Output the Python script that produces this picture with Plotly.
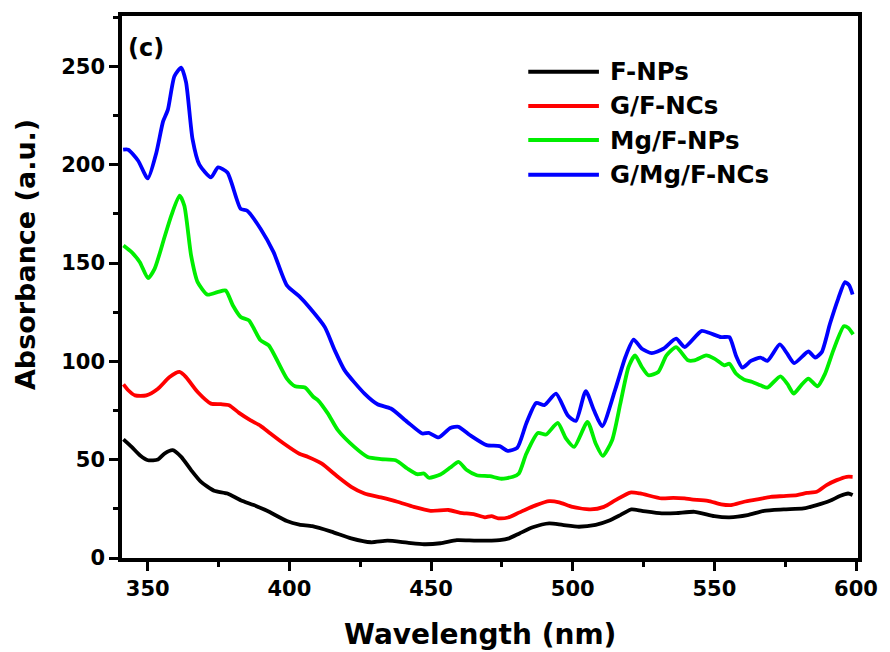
import plotly.graph_objects as go

# UV-Vis absorbance spectra, wavelength in nm
names = ["F-NPs", "G/F-NCs", "Mg/F-NPs", "G/Mg/F-NCs"]
colors = ["#000000", "#FF0000", "#00EE00", "#0000FF"]

fnp_x = [341.4, 344.3, 347.2, 350.1, 353.6, 355.9, 358.8, 361.8, 365.3, 368.8, 373.4, 378.1,
         382.8, 387.4, 392.1, 399.1, 403.5, 408.1, 414.8, 421.8, 428.8, 434.6, 441.6, 447.5,
         453.3, 459.1, 466.1, 474.2, 477.5, 481.2, 485.9, 491.7, 496.4, 502.2, 508.1, 512.7,
         516.8, 520.7, 524.4, 531.4, 536.5, 543.0, 550.0, 555.3, 561.7, 567.5, 574.5, 581.5,
         586.1, 590.8, 594.3, 597.2, 598.8]
fnp_y = [60.3, 56.5, 52.3, 49.7, 50.1, 53.1, 54.8, 51.4, 44.7, 38.7, 34.2, 32.8,
         29.4, 26.9, 24.0, 18.8, 17.0, 16.2, 13.4, 10.0, 8.0, 8.8, 7.8, 7.0,
         7.5, 9.1, 8.8, 9.1, 10.0, 12.5, 15.6, 17.6, 16.8, 15.9, 16.8, 18.9,
         21.8, 24.7, 24.0, 22.7, 22.8, 23.5, 21.3, 20.7, 21.8, 24.0, 24.7, 25.2,
         26.9, 29.1, 31.5, 32.8, 32.0]

gf_x = [341.4, 343.1, 345.5, 349.5, 353.6, 357.7, 361.2, 363.5, 367.6, 372.3, 375.8, 378.7,
        382.2, 386.3, 389.8, 393.3, 398.0, 403.5, 406.6, 411.3, 417.1, 421.8, 426.5, 432.3,
        438.1, 443.9, 449.8, 456.2, 460.3, 465.0, 469.0, 471.3, 473.7, 477.2, 481.2, 487.1,
        491.7, 495.2, 499.9, 506.3, 511.0, 515.1, 520.3, 523.8, 531.4, 535.5, 539.5, 541.9,
        547.7, 552.4, 555.9, 560.5, 565.2, 569.9, 574.5, 579.2, 582.7, 586.1, 589.6, 593.2,
        596.7, 598.8]
gf_y = [88.3, 85.3, 82.7, 82.7, 86.1, 92.0, 94.6, 92.0, 84.4, 78.5, 78.2, 77.7,
        73.8, 70.0, 67.2, 63.3, 58.2, 53.0, 51.4, 48.1, 41.3, 36.2, 32.8, 30.8,
        28.6, 26.0, 24.0, 24.4, 23.0, 22.3, 20.7, 21.3, 20.2, 20.6, 23.2, 26.9,
        28.9, 28.3, 26.0, 24.7, 26.0, 29.4, 33.3, 32.8, 30.3, 30.6, 30.3, 29.8,
        29.1, 27.3, 26.9, 28.6, 29.8, 31.1, 31.5, 32.0, 33.1, 33.7, 37.1, 39.6,
        41.3, 41.3]

mgf_x = [341.4, 344.3, 347.2, 350.1, 352.4, 355.9, 358.3, 361.2, 362.9, 365.3, 367.6, 371.1,
         374.6, 377.5, 380.0, 382.8, 385.7, 389.8, 392.7, 399.1, 402.0, 405.5, 408.4, 410.1,
         413.6, 417.1, 422.9, 427.6, 432.3, 437.5, 441.6, 445.1, 447.5, 449.2, 453.3, 456.8,
         459.7, 462.6, 466.1, 470.7, 474.8, 478.9, 481.0, 483.6, 487.7, 490.6, 494.7, 497.6,
         500.5, 505.2, 508.1, 510.6, 513.9, 516.8, 519.7, 522.0, 524.4, 526.7, 530.2, 533.1,
         536.5, 540.7, 543.0, 547.1, 550.0, 553.5, 555.3, 557.6, 560.5, 563.4, 566.3, 568.7,
         573.3, 575.7, 578.0, 580.9, 583.2, 586.4, 589.1, 592.0, 595.7, 597.2, 599.0]
mgf_y = [158.9, 155.5, 150.4, 142.3, 147.0, 163.1, 174.1, 184.3, 179.2, 153.8, 140.3, 133.9,
         135.2, 136.0, 128.5, 122.5, 120.8, 110.7, 108.1, 91.2, 87.3, 86.7, 82.0, 80.2,
         73.4, 65.0, 56.5, 51.4, 50.3, 49.7, 45.5, 42.6, 43.0, 40.8, 42.5, 46.0,
         48.9, 44.7, 42.1, 41.6, 40.3, 41.3, 43.0, 53.0, 63.6, 62.8, 68.7, 60.8,
         56.5, 69.2, 58.2, 51.9, 59.9, 78.5, 97.1, 103.0, 97.1, 92.9, 94.6, 103.0,
         107.2, 100.5, 100.5, 103.0, 101.4, 98.0, 98.8, 93.8, 90.7, 89.5, 87.8, 86.6,
         92.4, 88.7, 83.6, 88.3, 91.2, 87.3, 93.8, 105.6, 117.8, 117.1, 113.7]

gmgf_x = [341.3, 343.1, 346.6, 350.0, 353.0, 355.4, 357.1, 359.4, 361.8, 363.5, 365.8, 368.2,
          372.3, 374.8, 378.1, 382.8, 385.1, 389.8, 394.4, 399.1, 403.5, 407.0, 412.5, 416.0,
          419.5, 426.5, 431.1, 435.8, 441.6, 446.9, 449.2, 452.7, 456.8, 459.7, 463.8, 469.6,
          474.2, 477.0, 480.4, 483.6, 487.1, 490.0, 494.1, 498.2, 501.1, 504.6, 507.5, 510.4,
          515.1, 518.6, 521.5, 524.4, 527.9, 532.0, 536.5, 539.5, 545.4, 548.3, 552.4, 555.3,
          557.6, 559.9, 562.9, 566.3, 568.7, 573.1, 575.7, 578.2, 583.2, 585.6, 587.9, 590.8,
          593.7, 596.1, 597.6, 598.8]
gmgf_y = [207.6, 207.6, 202.0, 193.0, 206.0, 222.0, 228.0, 245.0, 249.4, 242.0, 213.0, 200.0,
          193.5, 198.6, 196.0, 177.5, 176.6, 167.4, 155.5, 138.6, 133.0, 127.5, 117.4, 105.6,
          95.4, 83.6, 78.2, 76.0, 69.2, 63.3, 63.6, 61.3, 66.1, 66.7, 62.4, 57.4,
          56.9, 54.5, 56.0, 68.4, 78.8, 77.7, 83.6, 72.6, 69.7, 84.9, 75.1, 67.0,
          86.1, 102.2, 111.0, 106.4, 104.2, 106.4, 111.5, 107.3, 115.4, 114.4, 112.3, 112.3,
          103.0, 96.8, 100.2, 101.9, 100.2, 108.6, 103.9, 99.1, 105.0, 101.9, 104.7, 119.1,
          131.8, 140.3, 138.6, 134.0]

series_x = [fnp_x, gf_x, mgf_x, gmgf_x]
series_y = [fnp_y, gf_y, mgf_y, gmgf_y]

FONT = "DejaVu Sans, Arial, sans-serif"

fig = go.Figure()
for name, color, xs, ys in zip(names, colors, series_x, series_y):
    fig.add_trace(go.Scatter(
        x=xs, y=ys, mode="lines", name=name, showlegend=False,
        line=dict(color=color, width=3.8, shape="spline", smoothing=0.6),
    ))

axis_common = dict(
    showgrid=False, zeroline=False,
    showline=True, linecolor="black", linewidth=3.5, mirror=True,
    ticks="outside", ticklen=9, tickwidth=3, tickcolor="black",
    tickfont=dict(family=FONT, size=21, color="black", weight="bold"),
)

fig.update_xaxes(
    range=[340.9, 600.7], tick0=350, dtick=50,
    minor=dict(ticks="outside", ticklen=5, tickwidth=3, tickcolor="black", dtick=25, tick0=350),
    **axis_common,
)
fig.update_yaxes(
    range=[0, 275.6], tick0=0, dtick=50,
    minor=dict(ticks="outside", ticklen=5, tickwidth=3, tickcolor="black", dtick=25, tick0=0),
    **axis_common,
)

annotations = [
    dict(text="Wavelength (nm)", xref="paper", yref="paper", x=0.486, y=-0.142,
         xanchor="center", yanchor="middle", showarrow=False,
         font=dict(family=FONT, size=28, color="black", weight="bold")),
    dict(text="Absorbance (a.u.)", xref="paper", yref="paper", x=-0.131, y=0.56,
         xanchor="center", yanchor="middle", textangle=-90, showarrow=False,
         font=dict(family=FONT, size=27, color="black", weight="bold")),
    dict(text="(c)", xref="paper", yref="paper", x=0.005, y=0.941,
         xanchor="left", yanchor="middle", showarrow=False,
         font=dict(family=FONT, size=24, color="black", weight="bold")),
]

# Hand-placed legend: sample line plus label per series
shapes = []
legend_rows = [0.897, 0.834, 0.771, 0.707]
for name, color, ly in zip(names, colors, legend_rows):
    shapes.append(dict(type="line", xref="paper", yref="paper",
                       x0=0.552, x1=0.648, y0=ly, y1=ly,
                       line=dict(color=color, width=4)))
    annotations.append(dict(text=name, xref="paper", yref="paper", x=0.660, y=ly,
                            xanchor="left", yanchor="middle", showarrow=False,
                            font=dict(family=FONT, size=24.5, color="black", weight="bold")))

fig.update_layout(
    width=890, height=652,
    margin=dict(l=122, r=25, t=15, b=94),
    paper_bgcolor="white", plot_bgcolor="white",
    annotations=annotations, shapes=shapes,
)

fig.write_html("out.html")
